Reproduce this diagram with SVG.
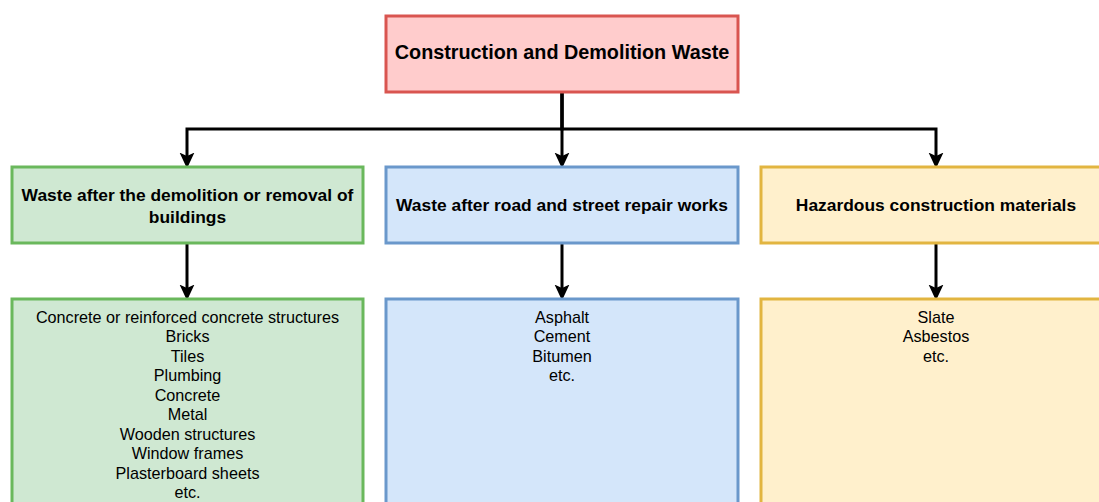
<svg xmlns="http://www.w3.org/2000/svg" width="1099" height="502" viewBox="0 0 1099 502">
<defs>
<style>
.box{stroke-width:3}
.red{fill:#ffcccc;stroke:#d95550}
.green{fill:#cfe8d2;stroke:#6ab85c}
.blue{fill:#d4e6fa;stroke:#6a98cb}
.yellow{fill:#fff0cc;stroke:#e2b540}
text{font-family:"Liberation Sans",Arial,Helvetica,sans-serif;fill:#000;text-anchor:middle}
.h1{font-size:19.8px;font-weight:bold}
.h2{font-size:17.4px;font-weight:bold}
.li{font-size:16.2px}
.edge{fill:none;stroke:#000;stroke-width:3}
</style>
<marker id="arr" markerUnits="userSpaceOnUse" markerWidth="16" markerHeight="16" viewBox="0 0 14 13" refX="3" refY="6.5" orient="auto">
<path d="M0,0 L14,6.5 L0,13 L3,6.5 Z" fill="#000"/>
</marker>
</defs>
<rect width="1099" height="502" fill="#fff"/>
<g id="connectors">
<path class="edge" d="M562,92 V129 H187 V156" marker-end="url(#arr)"/>
<path class="edge" d="M562,92 V156" marker-end="url(#arr)"/>
<path class="edge" d="M562,92 V129 H936 V156" marker-end="url(#arr)"/>
<path class="edge" d="M187,243 V288" marker-end="url(#arr)"/>
<path class="edge" d="M562,243 V288" marker-end="url(#arr)"/>
<path class="edge" d="M936,243 V288" marker-end="url(#arr)"/>
</g>
<g id="root">
<rect class="box red" x="386" y="16" width="352" height="76"/>
<text class="h1" x="562" y="59">Construction and Demolition Waste</text>
</g>
<g id="cat-buildings">
<rect class="box green" x="12" y="167" width="351" height="76"/>
<text class="h2" x="187.5" y="201">Waste after the demolition or removal of</text>
<text class="h2" x="187.5" y="223">buildings</text>
</g>
<g id="cat-road">
<rect class="box blue" x="386" y="167" width="352" height="76"/>
<text class="h2" x="562" y="211">Waste after road and street repair works</text>
</g>
<g id="cat-hazard">
<rect class="box yellow" x="761" y="167" width="352" height="76"/>
<text class="h2" x="936" y="211">Hazardous construction materials</text>
</g>
<g id="list-buildings">
<rect class="box green" x="12" y="299" width="351" height="220"/>
<text class="li" x="187.5" y="322.5">Concrete or reinforced concrete structures</text>
<text class="li" x="187.5" y="342">Bricks</text>
<text class="li" x="187.5" y="361.5">Tiles</text>
<text class="li" x="187.5" y="381">Plumbing</text>
<text class="li" x="187.5" y="400.5">Concrete</text>
<text class="li" x="187.5" y="420">Metal</text>
<text class="li" x="187.5" y="439.5">Wooden structures</text>
<text class="li" x="187.5" y="459">Window frames</text>
<text class="li" x="187.5" y="478.5">Plasterboard sheets</text>
<text class="li" x="187.5" y="498">etc.</text>
</g>
<g id="list-road">
<rect class="box blue" x="386" y="299" width="352" height="220"/>
<text class="li" x="562" y="322.5">Asphalt</text>
<text class="li" x="562" y="342">Cement</text>
<text class="li" x="562" y="361.5">Bitumen</text>
<text class="li" x="562" y="381">etc.</text>
</g>
<g id="list-hazard">
<rect class="box yellow" x="761" y="299" width="352" height="220"/>
<text class="li" x="936" y="322.5">Slate</text>
<text class="li" x="936" y="342">Asbestos</text>
<text class="li" x="936" y="361.5">etc.</text>
</g>
</svg>
